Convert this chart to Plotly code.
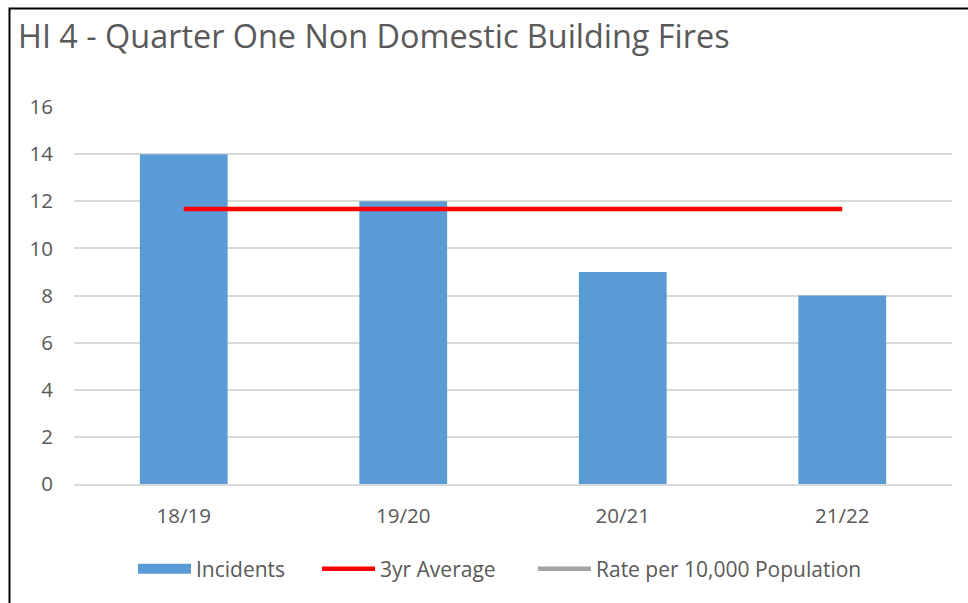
import plotly.graph_objects as go

categories = ["18/19", "19/20", "20/21", "21/22"]
incidents = [14, 12, 9, 8]
avg_3yr = [11.67, 11.67, 11.67, 11.67]
rate_per_10k = [None, None, None, None]
y_ticks = [0, 2, 4, 6, 8, 10, 12, 14, 16]

FONT = "Open Sans"
GREY = "#595959"
BLUE = "#5B9BD5"
RED = "#FF0000"
LGREY = "#A5A5A5"

L, R, T, B = 74, 16, 107, 119
W, H = 968, 603
pw = W - L - R
ph = H - T - B

fig = go.Figure()
fig.add_trace(go.Bar(x=categories, y=incidents, name="Incidents", showlegend=False,
                     marker=dict(color=BLUE, line=dict(width=0))))
# legend entry for the bars (wide rectangular key like the original)
fig.add_trace(go.Scatter(x=categories, y=[None] * len(categories), name="Incidents",
                         mode="lines", line=dict(color=BLUE, width=14), legend="legend"))
fig.add_trace(go.Scatter(x=categories, y=avg_3yr, name="3yr Average", mode="lines",
                         line=dict(color=RED, width=4.5), legend="legend2"))
fig.add_trace(go.Scatter(x=categories, y=rate_per_10k, name="Rate per 10,000 Population",
                         mode="lines", line=dict(color=LGREY, width=4.5), legend="legend3"))

leg_y = -(569 - (T + ph)) / ph


def leg(px):
    return dict(orientation="h", x=(px - L) / pw, xanchor="left", y=leg_y, yanchor="middle",
                font=dict(size=21, color=GREY, family=FONT), itemwidth=53,
                bgcolor="rgba(0,0,0,0)")


fig.update_layout(
    width=W, height=H,
    margin=dict(l=L, r=R, t=T, b=B),
    paper_bgcolor="white", plot_bgcolor="white",
    bargap=0.6,
    font=dict(family=FONT, color=GREY, size=20),
    title=dict(text="HI 4 - Quarter One Non Domestic Building Fires",
               x=18 / W, xanchor="left", y=1 - 37 / H, yanchor="middle",
               font=dict(family=FONT, size=32.4, color=GREY)),
    xaxis=dict(showgrid=False, showline=True, linecolor="#D9D9D9", linewidth=1.5,
               ticks="", tickfont=dict(size=20.5, color=GREY), ticklabelstandoff=13),
    yaxis=dict(range=[0, 16], tickvals=y_ticks, showgrid=True, gridcolor="#D9D9D9",
               gridwidth=1.5, zeroline=False, showline=False, ticks="",
               tickfont=dict(size=20.5, color=GREY), ticklabelstandoff=20),
    legend=leg(133),
    legend2=leg(317),
    legend3=leg(533),
    showlegend=True,
)

fig.add_shape(type="rect", xref="paper", yref="paper",
              x0=(9.5 - L) / pw, x1=(W + 20 - L) / pw,
              y0=-(H + 20 - (T + ph)) / ph, y1=(T + ph - 8.5) / ph,
              line=dict(color="black", width=2), fillcolor="rgba(0,0,0,0)", layer="above")

fig.write_html("out.html", config={"displayModeBar": False},
               post_script="document.body.style.margin='0';")
